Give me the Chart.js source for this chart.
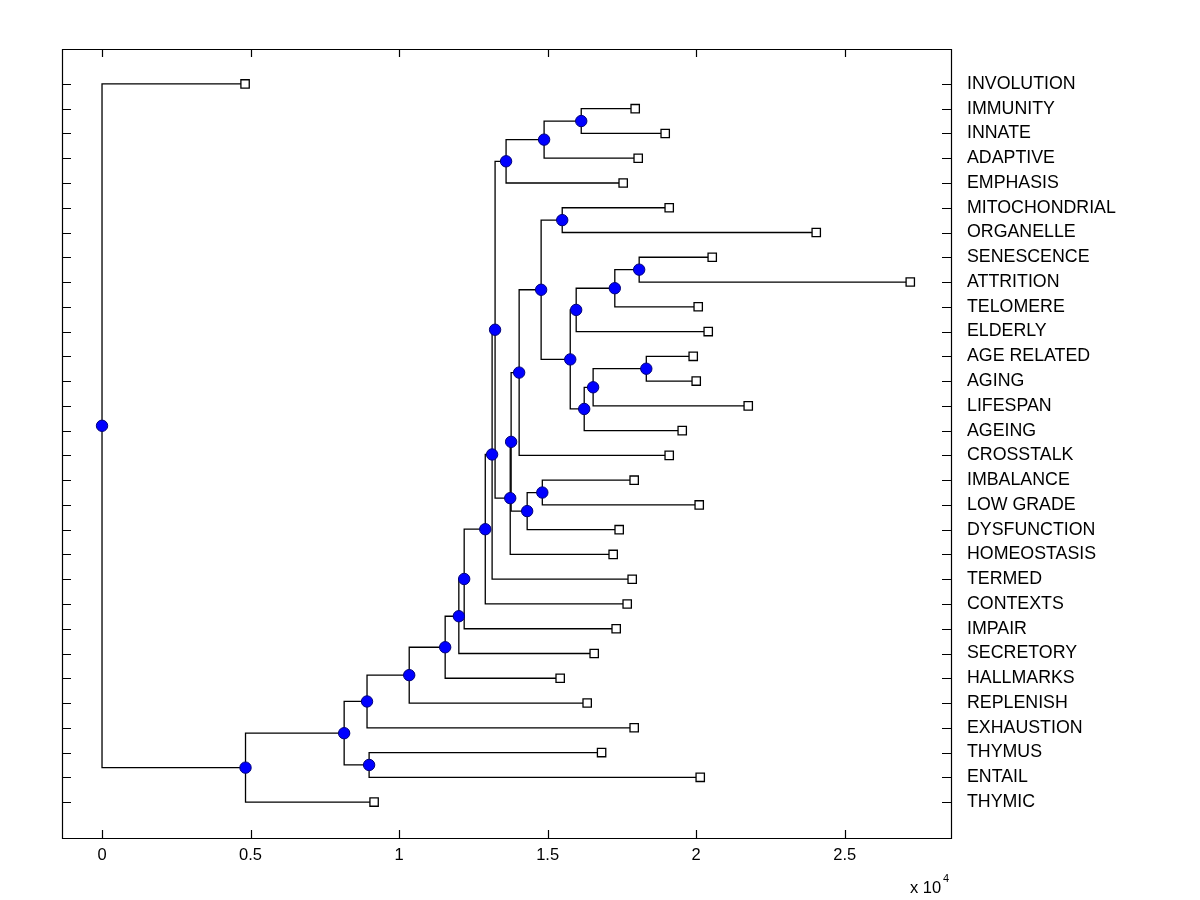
<!DOCTYPE html>
<html lang="en">
  <head>
    <meta charset="utf-8" />
    <title>Dendrogram</title>
    <style>
      body {
        margin: 0;
        background-color: white;
      }
    </style>
  </head>
  <body>
    <canvas id="chart" width="1200" height="900"></canvas>
    <script src="https://cdn.jsdelivr.net/npm/chart.js"></script>
    <script>
      // leaves, top to bottom (row 1..30)
      const labels = [
        "INVOLUTION", "IMMUNITY", "INNATE", "ADAPTIVE", "EMPHASIS",
        "MITOCHONDRIAL", "ORGANELLE", "SENESCENCE", "ATTRITION", "TELOMERE",
        "ELDERLY", "AGE RELATED", "AGING", "LIFESPAN", "AGEING",
        "CROSSTALK", "IMBALANCE", "LOW GRADE", "DYSFUNCTION", "HOMEOSTASIS",
        "TERMED", "CONTEXTS", "IMPAIR", "SECRETORY", "HALLMARKS",
        "REPLENISH", "EXHAUSTION", "THYMUS", "ENTAIL", "THYMIC",
      ];
      const leafX = [
        4815, 17946, 18956, 18047, 17542,
        19091, 24040, 20539, 27205, 20067,
        20404, 19899, 20000, 21751, 19529,
        19091, 17912, 20101, 17407, 17205,
        17845, 17677, 17306, 16566, 15421,
        16330, 17912, 16815, 20135, 9158,
      ];

      // internal nodes N1..N29, children are leaf names or node ids
      const nodeLeft = [
        "IMMUNITY", "N1", "N2", "MITOCHONDRIAL", "SENESCENCE",
        "N5", "N6", "AGE RELATED", "N8", "N9",
        "N7", "N4", "N12", "IMBALANCE", "N14",
        "N13", "N16", "N3", "N18", "N19",
        "N20", "N21", "N22", "N23", "N24",
        "THYMUS", "N25", "N27", "INVOLUTION",
      ];
      const nodeRight = [
        "INNATE", "ADAPTIVE", "EMPHASIS", "ORGANELLE", "ATTRITION",
        "TELOMERE", "ELDERLY", "AGING", "LIFESPAN", "AGEING",
        "N10", "N11", "CROSSTALK", "LOW GRADE", "DYSFUNCTION",
        "N15", "HOMEOSTASIS", "N17", "TERMED", "CONTEXTS",
        "IMPAIR", "SECRETORY", "HALLMARKS", "REPLENISH", "EXHAUSTION",
        "ENTAIL", "N26", "THYMIC", "N28",
      ];
      const nodeX = [
        16130, 14880, 13600, 15490, 18080,
        17260, 15960, 18320, 16530, 16230,
        15760, 14780, 14040, 14820, 14310,
        13770, 13740, 13230, 13130, 12900,
        12190, 12010, 11550, 10340, 8920,
        8990, 8150, 4830, 0,
      ];

      const xTicks = [0, 5000, 10000, 15000, 20000, 25000];
      const xTickLabels = ["0", "0.5", "1", "1.5", "2", "2.5"];

      const pos = {};
      labels.forEach((l, i) => (pos[l] = { x: leafX[i], y: i + 1 }));
      const nodes = nodeX.map((x, i) => {
        const a = pos[nodeLeft[i]];
        const b = pos[nodeRight[i]];
        const p = { x, y: (a.y + b.y) / 2 };
        pos["N" + (i + 1)] = p;
        return { p, a, b };
      });

      const lineSets = nodes.map(({ p, a, b }) => ({
        data: [
          { x: a.x, y: a.y },
          { x: p.x, y: a.y },
          { x: p.x, y: b.y },
          { x: b.x, y: b.y },
        ],
        showLine: true,
        borderColor: "black",
        borderWidth: 1.3,
        pointRadius: 0,
        tension: 0,
        order: 2,
      }));

      const leafSet = {
        data: labels.map((l) => pos[l]),
        pointStyle: "rect",
        pointRadius: 5.9,
        backgroundColor: "white",
        borderColor: "black",
        borderWidth: 1.3,
        order: 0,
      };
      const nodeSet = {
        data: nodes.map(({ p }) => p),
        pointStyle: "circle",
        pointRadius: 5.7,
        backgroundColor: "#0000ff",
        borderColor: "#00007a",
        borderWidth: 1,
        order: 1,
      };

      const yMin = -0.41;
      const yMax = 31.45;

      const frame = {
        id: "frame",
        afterDraw(chart) {
          const { ctx, chartArea: a, scales } = chart;
          ctx.save();
          ctx.strokeStyle = "black";
          ctx.lineWidth = 1.2;
          ctx.beginPath();
          ctx.rect(a.left + 0.5, a.top + 0.5, a.right - a.left, a.bottom - a.top);
          xTicks.forEach((v) => {
            const px = Math.round(scales.x.getPixelForValue(v)) + 0.5;
            ctx.moveTo(px, a.bottom);
            ctx.lineTo(px, a.bottom - 8);
            ctx.moveTo(px, a.top);
            ctx.lineTo(px, a.top + 8);
          });
          labels.forEach((_, i) => {
            const py = Math.round(scales.y.getPixelForValue(i + 1)) + 0.5;
            ctx.moveTo(a.left, py);
            ctx.lineTo(a.left + 9, py);
            ctx.moveTo(a.right, py);
            ctx.lineTo(a.right - 9, py);
          });
          ctx.stroke();
          ctx.fillStyle = "black";
          ctx.font = "16.5px 'Liberation Sans', Arial, sans-serif";
          ctx.textBaseline = "alphabetic";
          ctx.fillText("x 10", 910, 893);
          ctx.font = "11px 'Liberation Sans', Arial, sans-serif";
          ctx.fillText("4", 943, 882);
          ctx.restore();
        },
      };

      new Chart(document.getElementById("chart"), {
        type: "scatter",
        data: { datasets: [leafSet, nodeSet, ...lineSets] },
        options: {
          responsive: false,
          animation: false,
          layout: { padding: { left: 62, top: 49, right: 0, bottom: 0 } },
          plugins: { legend: { display: false }, tooltip: { enabled: false } },
          scales: {
            x: {
              type: "linear",
              min: -1347,
              max: 28576,
              grid: { display: false, drawTicks: false },
              border: { display: false },
              afterBuildTicks: (s) => (s.ticks = xTicks.map((value) => ({ value }))),
              afterFit: (s) => (s.height = 62),
              ticks: {
                color: "black",
                padding: 8,
                maxRotation: 0,
                font: { family: "'Liberation Sans', Arial", size: 16.5 },
                callback: (v) => xTickLabels[xTicks.indexOf(v)],
              },
            },
            y: {
              type: "linear",
              reverse: true,
              min: yMin,
              max: yMax,
              grid: { display: false },
              border: { display: false },
              ticks: { display: false },
              afterFit: (s) => (s.width = 0),
            },
            y2: {
              type: "linear",
              position: "right",
              reverse: true,
              min: yMin,
              max: yMax,
              grid: { display: false, drawTicks: false },
              border: { display: false },
              afterBuildTicks: (s) => (s.ticks = labels.map((_, i) => ({ value: i + 1 }))),
              afterFit: (s) => (s.width = 249),
              ticks: {
                color: "black",
                padding: 16,
                autoSkip: false,
                font: { family: "'Liberation Sans', Arial", size: 17.8 },
                callback: (v) => labels[v - 1],
              },
            },
          },
        },
        plugins: [frame],
      });
    </script>
  </body>
</html>
